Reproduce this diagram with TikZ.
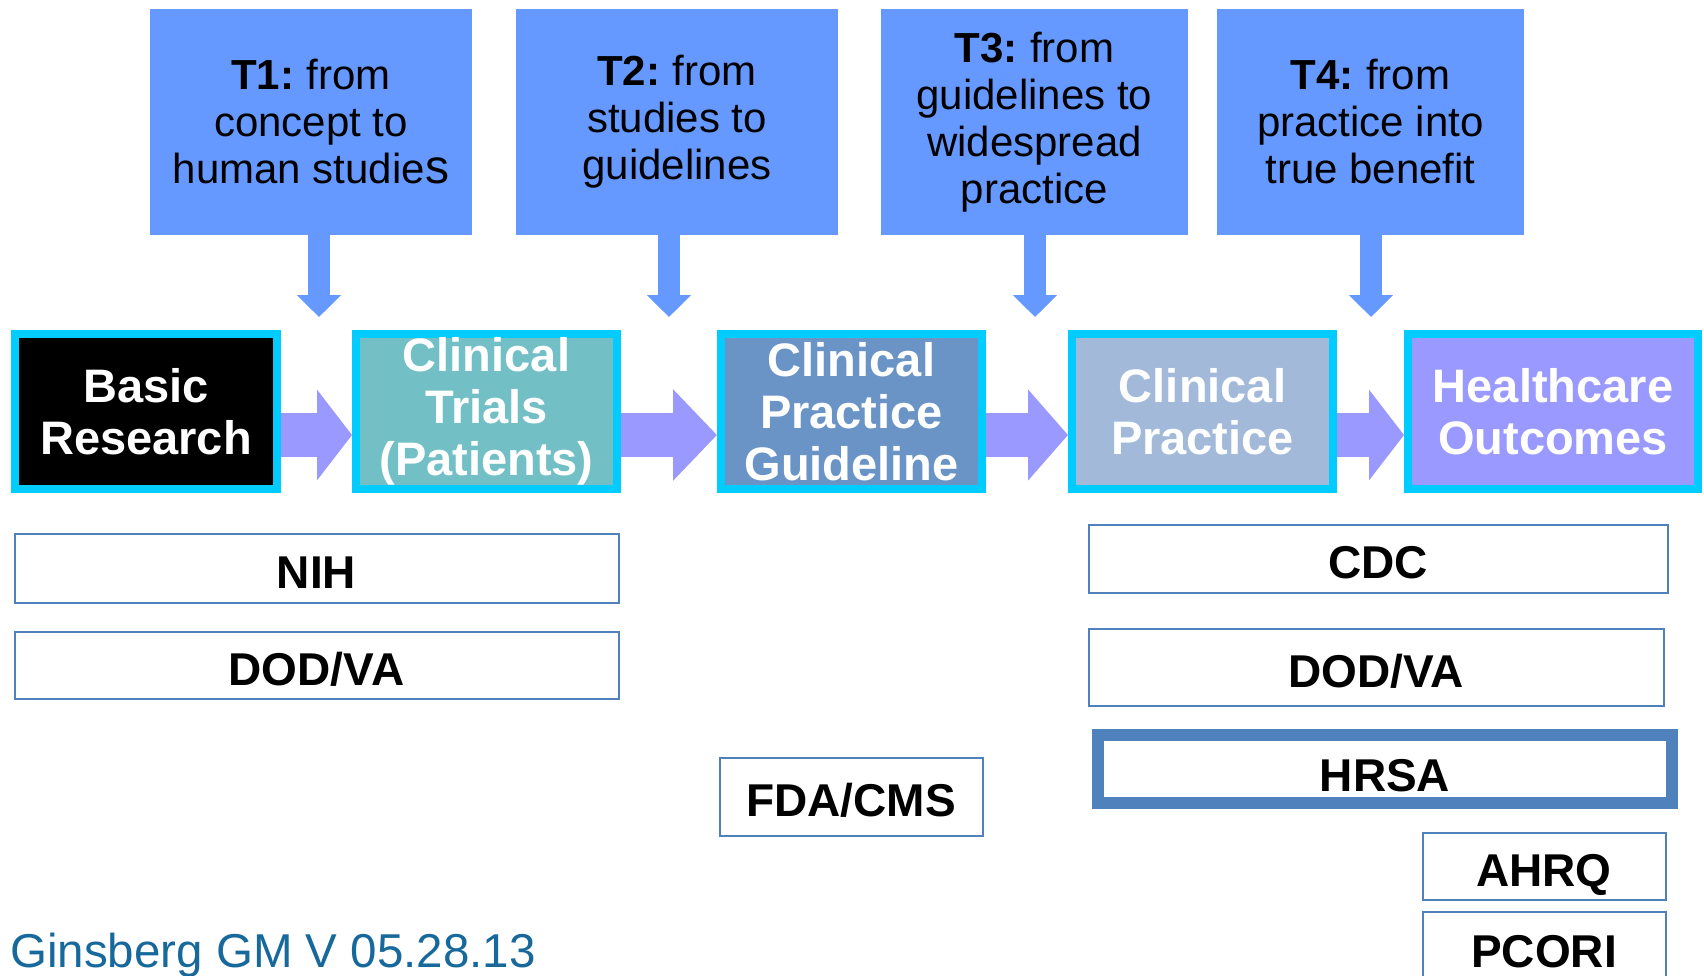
\documentclass[tikz,border=0pt]{standalone}
\usepackage{fontspec}
\setmainfont{Liberation Sans}
\usetikzlibrary{arrows.meta}
\definecolor{tblue}{HTML}{6699FF}
\definecolor{lav}{HTML}{9999FF}
\definecolor{cyanb}{HTML}{00CCFF}
\definecolor{ctfill}{HTML}{72BFC6}
\definecolor{cpgfill}{HTML}{6A93C6}
\definecolor{cpfill}{HTML}{A2B9DA}
\definecolor{oblue}{HTML}{4F81BD}
\definecolor{gins}{HTML}{17699B}
\newcommand{\tlab}[1]{\textbf{#1}\hspace{-3pt}}
\tikzset{
  tbox/.style={fill=tblue, inner sep=0pt, minimum height=226pt, minimum width=#1, align=center,
    font=\fontsize{42}{47}\selectfont},
  rowbox/.style={draw=cyanb, line width=8pt, inner xsep=0pt, inner ysep=-12pt, minimum height=155pt,
    minimum width=#1, align=center, text=white, font=\bfseries\fontsize{47}{52}\selectfont},
  obox/.style={draw=oblue, line width=2pt, inner sep=0pt, text height=40pt, text depth=0pt,
    font=\bfseries\fontsize{46}{52}\selectfont},
  varrow/.style={draw=tblue, line width=22pt, -{Triangle[width=43pt,length=22pt]}},
  harrow/.style={draw=lav, line width=44pt, -{Triangle[width=89pt,length=#1]}},
}
\begin{document}
\begin{tikzpicture}[x=1pt,y=-1pt]
\useasboundingbox (0,0) rectangle (1704,975);
\clip (0,0) rectangle (1704,975);
\fill[white] (0,0) rectangle (1704,975);

% top boxes
\node[tbox=322pt] (t1) at (311,122) {\tlab{T1:} from\\concept to\\human studie{\fontsize{48}{47}\selectfont s}};
\node[tbox=322pt] (t2) at (677,122) {\tlab{T2:} from\\studies to\\guidelines};
\node[tbox=307pt] (t3) at (1034.5,122) {\tlab{T3:} from\\guidelines to\\widespread\\practice};
\node[tbox=307pt] (t4) at (1370.5,122) {\tlab{T4:} from\\practice into\\true benefit};

% arrow tips
\coordinate (t1tip) at (319,317);
\coordinate (t2tip) at (669,317);
\coordinate (t3tip) at (1035,317);
\coordinate (t4tip) at (1371,317);
\coordinate (arow) at (0,435);

\draw[varrow] (t1tip |- t1.south) -- (t1tip);
\draw[varrow] (t2tip |- t2.south) -- (t2tip);
\draw[varrow] (t3tip |- t3.south) -- (t3tip);
\draw[varrow] (t4tip |- t4.south) -- (t4tip);

% row boxes
\node[rowbox=262pt, fill=black] (br) at (146,411.5) {Basic\\Research};
\node[rowbox=261pt, fill=ctfill] (ct) at (486.5,411.5) {Clinical\\Trials\\(Patients)};
\node[rowbox=261pt, fill=cpgfill] (cpg) at (851.5,411.5) {Clinical\\Practice\\Guideline};
\node[rowbox=261pt, fill=cpfill] (cp) at (1202.5,411.5) {Clinical\\Practice};
\node[rowbox=290pt, fill=lav] (ho) at (1553,411.5) {Healthcare\\Outcomes};

% horizontal arrows
\draw[harrow=35pt] (br.east |- arow) -- (ct.west |- arow);
\draw[harrow=44pt] (ct.east |- arow) -- (cpg.west |- arow);
\draw[harrow=40pt] (cpg.east |- arow) -- (cp.west |- arow);
\draw[harrow=35pt] (cp.east |- arow) -- (ho.west |- arow);

% organisation boxes
\node[obox, minimum width=604pt, minimum height=69pt] (nih) at (316.5,568) {NIH};
\node[obox, minimum width=604pt, minimum height=67pt] (dodl) at (316.5,665) {DOD/VA};
\node[obox, minimum width=263pt, minimum height=78pt] (fda) at (851,796.5) {FDA/CMS};
\node[obox, minimum width=579pt, minimum height=68pt] (cdc) at (1378,558.5) {CDC};
\node[obox, minimum width=575pt, minimum height=77pt] (dodr) at (1376,667) {DOD/VA};
\node[obox, line width=12pt, text height=44pt, minimum width=574pt, minimum height=68pt] (hrsa) at (1385,769) {HRSA};
\node[obox, minimum width=243pt, minimum height=67pt] (ahrq) at (1544,866) {AHRQ};
\node[obox, minimum width=243pt, minimum height=70pt] (pcori) at (1544,947) {PCORI};

% footer
\node[anchor=base west, inner sep=0pt, text=gins, font=\fontsize{47.5}{52}\selectfont] (foot) at (10,967) {Ginsberg GM V 05.28.13};
\end{tikzpicture}
\end{document}
